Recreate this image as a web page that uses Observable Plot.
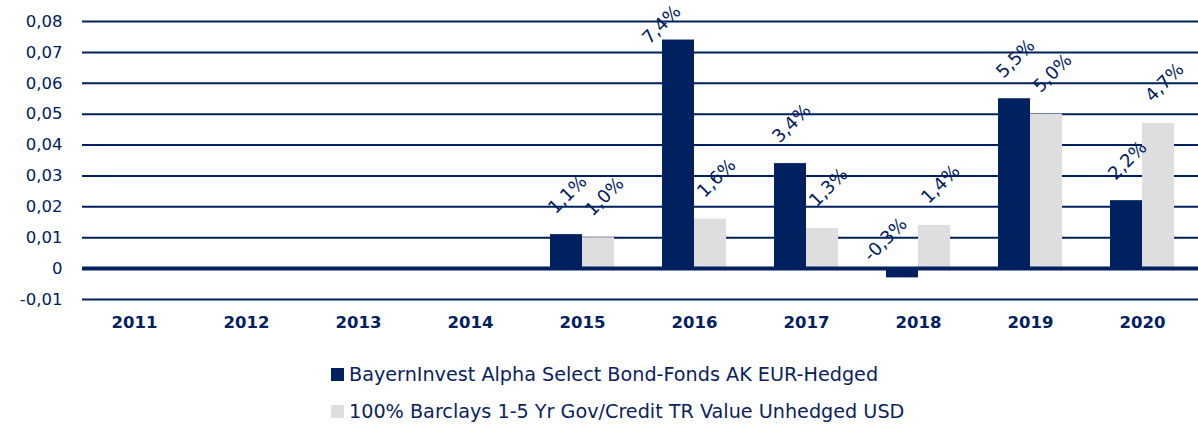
<!DOCTYPE html>
<html>
<head>
<meta charset="utf-8">
<script src="https://cdn.jsdelivr.net/npm/d3@7"></script>
<script src="https://cdn.jsdelivr.net/npm/@observablehq/plot@0.6"></script>
<style>
  body { margin: 0; background: #fff; font-family: "DejaVu Sans", sans-serif; }
  #chart svg { overflow: visible; }
  .legend { margin-top: 11px; padding-left: 331px; color: #0B2260; font-size: 19.2px; }
  .legend .row { height: 37px; display: flex; align-items: center; }
  .legend .sw { width: 13px; height: 13px; margin-right: 5px; display: inline-block; }
</style>
</head>
<body>
<div id="chart"></div>
<div class="legend" id="legend"></div>
<script>
const years = ["2011","2012","2013","2014","2015","2016","2017","2018","2019","2020"];
const seriesNames = [
  "BayernInvest Alpha Select Bond-Fonds AK EUR-Hedged",
  "100% Barclays 1-5 Yr Gov/Credit TR Value Unhedged USD"
];
const fundValues = [null, null, null, null, 0.011, 0.074, 0.034, -0.003, 0.055, 0.022];
const benchValues = [null, null, null, null, 0.010, 0.016, 0.013, 0.014, 0.050, 0.047];
const yTicks = [-0.01, 0, 0.01, 0.02, 0.03, 0.04, 0.05, 0.06, 0.07, 0.08];

const navy = "#00205F";
const grey = "#DEDEDE";
const colors = [navy, grey];

const fund = years.map((y, i) => ({year: y, value: fundValues[i]})).filter(d => d.value != null);
const bench = years.map((y, i) => ({year: y, value: benchValues[i]})).filter(d => d.value != null);
const fmtPct = v => (v * 100).toFixed(1).replace(".", ",") + "%";
const fmtTick = v => v === 0 ? "0" : v.toFixed(2).replace(".", ",");

const capLevel = 0.066; // labels above this level are pushed inside the plot area
const labelOpts = {fill: navy, fontSize: 18, rotate: -45, textAnchor: "middle"};

const chart = Plot.plot({
  width: 1198,
  height: 345,
  marginLeft: 78,
  marginRight: 0,
  marginTop: 21,
  marginBottom: 46,
  style: {fontFamily: "DejaVu Sans, sans-serif", color: navy, background: "transparent"},
  x: {domain: years, padding: 0, label: null},
  y: {domain: [-0.01, 0.08], label: null},
  marks: [
    Plot.ruleY(yTicks.filter(d => d !== 0), {stroke: navy, strokeWidth: 2, insetLeft: 4}),
    Plot.barY(fund, {x: "year", y: "value", fill: navy, insetLeft: 24, insetRight: 56}),
    Plot.barY(bench, {x: "year", y: "value", fill: grey, insetLeft: 56, insetRight: 24}),
    Plot.ruleY([0], {stroke: navy, strokeWidth: 4, insetLeft: 4}),
    Plot.text(fund.filter(d => d.value >= 0 && d.value <= capLevel), {x: "year", y: "value", text: d => fmtPct(d.value), dx: -15, dy: -40, ...labelOpts}),
    Plot.text(fund.filter(d => d.value > capLevel), {x: "year", y: () => capLevel, text: d => fmtPct(d.value), dx: -33, dy: -40, ...labelOpts}),
    Plot.text(fund.filter(d => d.value < 0), {x: "year", y: () => 0, text: d => fmtPct(d.value), dx: -33, dy: -29, ...labelOpts}),
    Plot.text(bench, {x: "year", y: "value", text: d => fmtPct(d.value), dx: 22, dy: -41, ...labelOpts}),
    Plot.axisY({ticks: yTicks, tickFormat: fmtTick, tickSize: 0, tickPadding: 16, fontSize: 16.5, fill: navy, label: null}),
    Plot.axisX({tickSize: 0, tickPadding: 17, fontSize: 16.5, fontWeight: "bold", fill: navy, label: null})
  ]
});
document.getElementById("chart").append(chart);

const legend = document.getElementById("legend");
seriesNames.forEach((name, i) => {
  const row = document.createElement("div");
  row.className = "row";
  const sw = document.createElement("span");
  sw.className = "sw";
  sw.style.background = colors[i];
  const t = document.createElement("span");
  t.textContent = name;
  row.append(sw, t);
  legend.append(row);
});
</script>
</body>
</html>
